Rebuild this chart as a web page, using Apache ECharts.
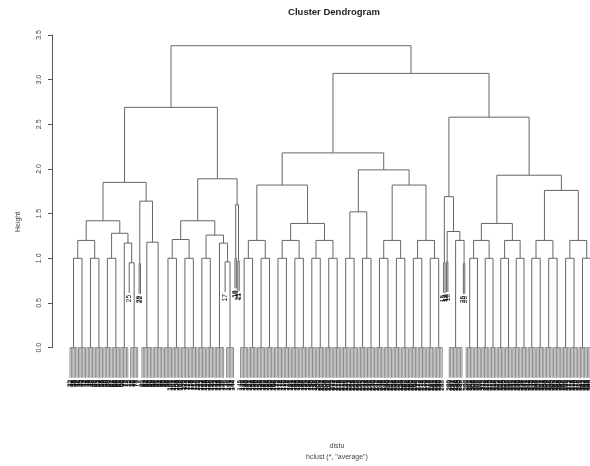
<!DOCTYPE html>
<html><head><meta charset="utf-8">
<script src="https://cdn.jsdelivr.net/npm/echarts@6/dist/echarts.min.js"></script>
<style>html,body{margin:0;padding:0;background:#fff}#c{width:590px;height:466px}</style>
</head><body><div id="c"></div>
<script>
// ---- data: merge heights of the dendrogram ----
// a number n>1 = a group of n identical observations (merged at height 0)
// 1 = a single observation; [h, a, b] = merge of a and b at height h
const rootHeight = 3.38;
const leftHeight = 2.69;
const rightHeight = 3.07;
const leftLeft = [1.85,
  [1.42, [1.20, [1.00, 6, 6], [1.00, 6, 6]], [1.28, [1.00, 6, 6], [1.17, 6, [0.95, 1, 6]]]],
  [1.64, [0.94, 1, 1], [1.18, 8, 8]]];
const leftRight = [1.89,
  [1.42, [1.21, [1.00, 6, 6], [1.00, 6, 6]], [1.26, [1.00, 6, 6], [1.17, 7, [0.96, 1, 6]]]],
  [1.60, [1.00, 1, 1], [0.97, 1, 1]]];
const rightLeft = [2.18,
  [1.82, [1.20, [1.00, 6, 6], [1.00, 6, 6]],
         [1.39, [1.20, [1.00, 6, 6], [1.00, 6, 6]], [1.20, [1.00, 6, 6], [1.00, 6, 6]]]],
  [1.99, [1.52, [1.00, 6, 6], [1.00, 6, 6]],
         [1.82, [1.20, [1.00, 6, 6], [1.00, 6, 6]], [1.20, [1.00, 6, 6], [1.00, 6, 6]]]]];
const rightRight = [2.58,
  [1.69, [0.95, 1, 1], [1.30, [0.96, 1, 1], [1.20, 10, [0.94, 1, 1]]]],
  [1.93, [1.39, [1.20, [1.00, 6, 5], [1.00, 6, 5]], [1.20, [1.00, 6, 5], [1.00, 6, 5]]],
         [1.76, [1.20, [1.00, 6, 6], [1.00, 6, 6]], [1.20, [1.00, 6, 6], [1.00, 6, 6]]]]];
const singletonLabels = ["25","28","22","17","18","19","21","11","15","12","13","16"];
const yTicks = [0, 0.5, 1, 1.5, 2, 2.5, 3, 3.5];

const tree = [rootHeight, [leftHeight, leftLeft, leftRight], [rightHeight, rightLeft, rightRight]];
const hang = 0.1 * rootHeight;

const segments = [];   // [x1, y1, x2, y2, kind]
const leafLabels = [];
let pos = 1, sIdx = 0, gNum = 32;
function layout(node) {
  if (typeof node === 'number') {
    if (node === 1) { const x = pos++; return { x, single: true }; }
    const start = pos;
    for (let i = 0; i < node; i++) {
      const x = pos++;
      segments.push([x, 0, x, -hang, 1]);
      leafLabels.push([x, -hang, String(gNum++)]);
    }
    segments.push([start, 0, start + node - 1, 0, 1]);
    return { x: start + (node - 1) / 2, top: 0 };
  }
  const h = node[0];
  const L = layout(node[1]), R = layout(node[2]);
  [L, R].forEach(c => {
    let bottom = c.top;
    if (c.single) {
      bottom = h - hang;
      leafLabels.push([c.x, bottom, singletonLabels[sIdx++ % singletonLabels.length]]);
    }
    segments.push([c.x, h, c.x, bottom, 0]);
  });
  segments.push([L.x, h, R.x, h, 0]);
  return { x: (L.x + R.x) / 2, top: h };
}
layout(tree);
const N = pos - 1;

const chart = echarts.init(document.getElementById('c'), null, { renderer: 'canvas' });
const FONT = 'Liberation Sans, Arial, Helvetica, sans-serif';
chart.setOption({
  animation: false,
  backgroundColor: '#fff',
  grid: { left: 70, right: -4.5, top: 35, bottom: 118.4, containLabel: false, outerBoundsMode: 'none' },
  xAxis: { type: 'value', min: 1, max: N, show: false },
  yAxis: {
    type: 'value', min: yTicks[0], max: yTicks[yTicks.length - 1], interval: 0.5, offset: 18,
    axisLine: { show: true, lineStyle: { color: '#555', width: 1 } },
    axisTick: { show: true, length: 4, lineStyle: { color: '#555' } },
    splitLine: { show: false },
    axisLabel: { rotate: 90, margin: 9, fontSize: 7, color: '#444', fontFamily: FONT,
      formatter: v => v.toFixed(1) }
  },
  graphic: [
    { type: 'text', x: 334, y: 12, style: { text: 'Cluster Dendrogram', font: 'bold 9.5px ' + FONT, fill: '#222', align: 'center', verticalAlign: 'middle' } },
    { type: 'text', x: 18, y: 222, rotation: Math.PI / 2, style: { text: 'Height', font: '7px ' + FONT, fill: '#444', align: 'center', verticalAlign: 'middle' } },
    { type: 'text', x: 337, y: 446, style: { text: 'distu', font: '7px ' + FONT, fill: '#444', align: 'center', verticalAlign: 'middle' } },
    { type: 'text', x: 337, y: 457, style: { text: 'hclust (*, "average")', font: '7px ' + FONT, fill: '#444', align: 'center', verticalAlign: 'middle' } }
  ],
  series: [
    {
      type: 'custom', clip: false, silent: true,
      data: segments,
      encode: { x: [0, 2], y: [1, 3] },
      renderItem: (params, api) => {
        const p1 = api.coord([api.value(0), api.value(1)]);
        const p2 = api.coord([api.value(2), api.value(3)]);
        return { type: 'line', shape: { x1: p1[0], y1: p1[1], x2: p2[0], y2: p2[1] },
          style: { stroke: api.value(4) ? '#8c8c8c' : '#666', lineWidth: 1 } };
      }
    },
    {
      type: 'custom', clip: false, silent: true,
      data: leafLabels,
      encode: { x: 0, y: 1 },
      renderItem: (params, api) => {
        const p = api.coord([api.value(0), api.value(1)]);
        return { type: 'text', x: p[0], y: p[1] + 2, rotation: Math.PI / 2,
          style: { text: leafLabels[params.dataIndex][2], font: '6.5px ' + FONT, fill: '#000', align: 'right', verticalAlign: 'middle' } };
      }
    }
  ]
});
</script></body></html>
